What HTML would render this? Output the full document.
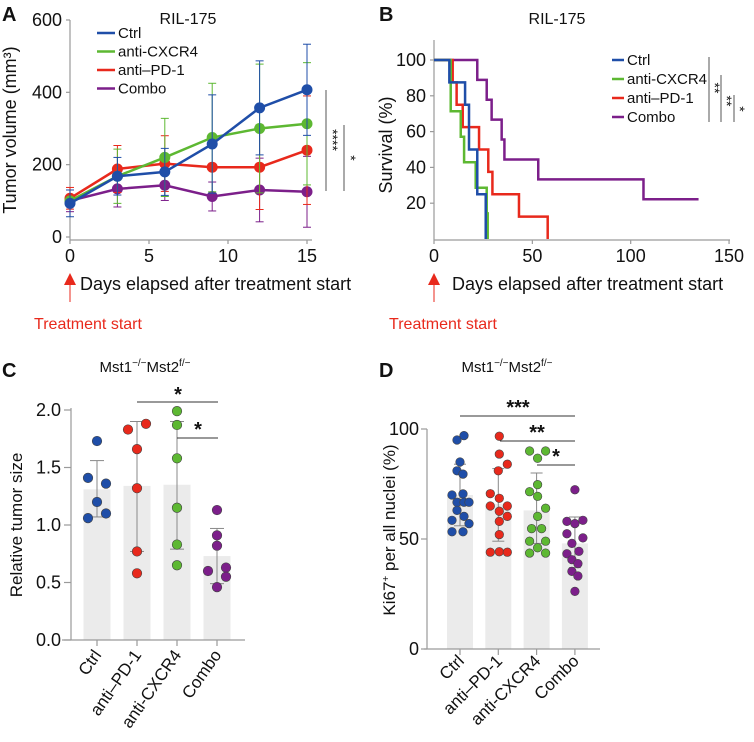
<!DOCTYPE html>
<html><head><meta charset="utf-8"><style>
body{margin:0;background:#fff;}
svg{display:block;font-family:"Liberation Sans",Arial,sans-serif;}
</style></head><body>
<svg id="fig" width="754" height="742" viewBox="0 0 754 742">
<g id="gA"></g>
<g id="gB"></g>
<g id="gC"></g>
<g id="gD"></g>
</svg>
<script>
// ---- Panel A data ----
const daysA=[0,3,6,9,12,15];
const ctrlA=[93,168,180,257,357,407];
const ctrlErrA=[37,52,65,136,130,126];
const cxcrA=[100,168,220,275,300,313];
const cxcrErrA=[0,75,108,150,178,169];
const pd1A=[107,188,203,193,193,240];
const pd1ErrA=[30,65,77,0,117,150];
const comboA=[100,133,143,112,130,125];
const comboErrA=[30,50,42,40,88,98];
const ticksAy=[0,200,400,600];
const ticksAx=[0,5,10,15];
// ---- Panel B data ----
const ctrlB=[[0,100],[7.8,87.5],[15.8,75],[17.8,50],[22,25],[26.3,0]];
const cxcrB=[[0,100],[8.5,71.4],[13.6,57.1],[15.3,42.9],[21.2,28.6],[26.8,14.3],[27.3,0]];
const pd1B=[[0,100],[9.5,87.5],[11.5,75],[14.6,62.5],[22.9,50],[27.6,37.5],[29.7,25],[43.2,12.5],[57.8,0]];
const comboB=[[0,100],[22,88.9],[26.8,77.8],[29.3,66.7],[34.4,55.6],[35.8,44.4],[53,33.3],[106.5,22.2]];
const comboEndB=134.5;
const ticksBy=[20,40,60,80,100];
const ticksBx=[0,50,100,150];
// ---- Panel C data ----
const catsC=["Ctrl","anti–PD-1","anti-CXCR4","Combo"];
const meansC=[1.31,1.34,1.35,0.73];
const errLoC=[1.07,0.77,0.79,0.49];
const errHiC=[1.56,1.90,1.90,0.97];
const ptsCtrlC=[1.73,1.41,1.36,1.20,1.06,1.10];
const ptsPd1C=[1.83,1.88,1.66,1.32,0.77,0.58];
const ptsCxcrC=[1.99,1.87,1.58,1.15,0.83,0.65];
const ptsComboC=[1.13,0.91,0.82,0.60,0.63,0.55,0.46];
const ticksCy=[0,0.5,1.0,1.5,2.0];
// ---- Panel D data ----
const catsD=["Ctrl","anti–PD-1","anti-CXCR4","Combo"];
const meansD=[70,66,63,48];
const errLoD=[56,49,48,37];
const errHiD=[84,82,80,60];
const ptsCtrlD=[95,97,85,81,79.5,70,70.5,66.7,66.7,66.7,63,58.5,60.3,57,53.3,53.3];
const ptsPd1D=[96.7,88.6,84,81,70.6,68.5,65,65,62.6,60.3,58,52,44,44.2,44];
const ptsCxcrD=[90,90,86.7,71.5,74.7,69.4,64,60.3,54.7,54.7,49,49,46,43.6,43.6];
const ptsComboD=[72.4,58,57,58.5,52.4,50.5,48,43.3,44.4,40.6,38.8,35.3,33.2,26.2];
const ticksDy=[0,50,100];

const NS="http://www.w3.org/2000/svg";
const BLUE="#1f4ea8",GREEN="#5db832",RED="#e8291c",PURP="#7c1f8a",AX="#9a9a9a";
function mk(p,tag,a,txt){const e=document.createElementNS(NS,tag);for(const k in a)e.setAttribute(k,a[k]);if(txt!==undefined)e.textContent=txt;p.appendChild(e);return e;}

const gA=document.getElementById('gA'),gB=document.getElementById('gB'),gC=document.getElementById('gC'),gD=document.getElementById('gD');
function line(g,x1,y1,x2,y2,c,w,name){const l=mk(g,'line',{x1:x1,y1:y1,x2:x2,y2:y2,stroke:c,'stroke-width':w});


return l;}
function text(g,x,y,s,sz,name,extra){const a={x:x,y:y,'font-size':sz,fill:'#111'};for(const k in (extra||{}))a[k]=extra[k];const t=mk(g,'text',a,s);


return t;}

// ================= Panel A =================
const xA=d=>70+d*15.8, yA=v=>237-v*0.3617;
text(gA,2,21,"A",20,'panel-label-a',{'font-weight':'bold'});
text(gA,188,24,"RIL-175",16,'title-a',{'text-anchor':'middle'});
line(gA,70,20,70,240,AX,1.2,'y-axis-a');
line(gA,70,240,312,240,AX,1.2,'x-axis-a');
ticksAy.forEach(v=>{line(gA,66,yA(v),70,yA(v),AX,1.2,'y-tick-a');text(gA,62,yA(v)+6,String(v),18,'y-tick-label-a',{'text-anchor':'end'});});
ticksAx.forEach(v=>{line(gA,xA(v),240,xA(v),244,AX,1.2,'x-tick-a');text(gA,xA(v),262,String(v),18,'x-tick-label-a',{'text-anchor':'middle'});});
text(gA,16,130,"Tumor volume (mm³)",18,'y-axis-title-a',{'text-anchor':'middle',transform:'rotate(-90 16 130)'});
text(gA,80,290,"Days elapsed after treatment start",18,'x-axis-title-a');
function seriesA(vals,errs,col,name){
  vals.forEach((v,i)=>{if(errs[i]>0){const x=xA(daysA[i]);
    line(gA,x,yA(v-errs[i]),x,yA(v+errs[i]),col,1,name+'-errorbar');
    line(gA,x-4,yA(v+errs[i]),x+4,yA(v+errs[i]),col,1,name+'-errcap');
    line(gA,x-4,yA(v-errs[i]),x+4,yA(v-errs[i]),col,1,name+'-errcap');}});
  const p=mk(gA,'polyline',{points:vals.map((v,i)=>xA(daysA[i])+','+yA(v)).join(' '),fill:'none',stroke:col,'stroke-width':2.5});
  
  
  vals.forEach((v,i)=>{const c=mk(gA,'circle',{cx:xA(daysA[i]),cy:yA(v),r:5.5,fill:col});
    
    });
}
seriesA(comboA,comboErrA,PURP,'combo-a');
seriesA(pd1A,pd1ErrA,RED,'pd1-a');
seriesA(cxcrA,cxcrErrA,GREEN,'cxcr4-a');
seriesA(ctrlA,ctrlErrA,BLUE,'ctrl-a');
[["Ctrl",BLUE],["anti-CXCR4",GREEN],["anti–PD-1",RED],["Combo",PURP]].forEach((e,i)=>{const y=33+i*18.5;
  line(gA,97,y,115,y,e[1],2.5,'legend-swatch-a');text(gA,118,y+5,e[0],15,'legend-entry-a');});
line(gA,326,90,326,191,'#555',1,'sig-line-a1');
text(gA,328,140,"****",14,'sig-stars-a1',{transform:'rotate(90 328 140)','text-anchor':'middle'});
line(gA,344,125,344,191,'#555',1,'sig-line-a2');
text(gA,346,158,"*",14,'sig-stars-a2',{transform:'rotate(90 346 158)','text-anchor':'middle'});
// arrow
mk(gA,'polygon',{points:'64,285 76,285 70,273',fill:'#e8291c',});
line(gA,70,284,70,302,'#e8291c',1,'arrow-line-a');
text(gA,88,329,"Treatment start",16,'treatment-label-a',{'text-anchor':'middle',fill:'#e8291c'});

// ================= Panel B =================
const xB=d=>434+d*1.967, yB=v=>239-v*1.79;
text(gB,379,21,"B",20,'panel-label-b',{'font-weight':'bold'});
text(gB,557,24,"RIL-175",16,'title-b',{'text-anchor':'middle'});
line(gB,434,40,434,240,AX,1.2,'y-axis-b');
line(gB,434,240,730,240,AX,1.2,'x-axis-b');
ticksBy.forEach(v=>{line(gB,430,yB(v),434,yB(v),AX,1.2,'y-tick-b');text(gB,426,yB(v)+6,String(v),18,'y-tick-label-b',{'text-anchor':'end'});});
ticksBx.forEach(v=>{line(gB,xB(v),240,xB(v),244,AX,1.2,'x-tick-b');text(gB,xB(v),262,String(v),18,'x-tick-label-b',{'text-anchor':'middle'});});
text(gB,392,145,"Survival (%)",18,'y-axis-title-b',{'text-anchor':'middle',transform:'rotate(-90 392 145)'});
text(gB,452,290,"Days elapsed after treatment start",18,'x-axis-title-b');
function stepB(pts,end,col,name){let d='M'+xB(pts[0][0])+','+yB(pts[0][1]);
  for(let i=1;i<pts.length;i++){d+=' H'+xB(pts[i][0])+' V'+yB(pts[i][1]);}
  if(end!==null)d+=' H'+xB(end);
  const p=mk(gB,'path',{d:d,fill:'none',stroke:col,'stroke-width':2.5});
  
  }
stepB(comboB,comboEndB,PURP,'combo-survival-curve');
stepB(pd1B,null,RED,'pd1-survival-curve');
stepB(cxcrB,null,GREEN,'cxcr4-survival-curve');
stepB(ctrlB,null,BLUE,'ctrl-survival-curve');
[["Ctrl",BLUE],["anti-CXCR4",GREEN],["anti–PD-1",RED],["Combo",PURP]].forEach((e,i)=>{const y=60+i*19;
  line(gB,612,y,624,y,e[1],2.5,'legend-swatch-b');text(gB,627,y+5,e[0],15,'legend-entry-b');});
line(gB,709,57,709,122,'#555',1,'sig-line-b1');
text(gB,710,88,"**",14,'sig-stars-b1',{transform:'rotate(90 710 88)','text-anchor':'middle'});
line(gB,721,75,721,122,'#555',1,'sig-line-b2');
text(gB,722,101,"**",14,'sig-stars-b2',{transform:'rotate(90 722 101)','text-anchor':'middle'});
line(gB,734,95,734,122,'#555',1,'sig-line-b3');
text(gB,735,109,"*",14,'sig-stars-b3',{transform:'rotate(90 735 109)','text-anchor':'middle'});
mk(gB,'polygon',{points:'428,285 440,285 434,273',fill:'#e8291c',});
line(gB,434,284,434,302,'#e8291c',1,'arrow-line-b');
text(gB,443,329,"Treatment start",16,'treatment-label-b',{'text-anchor':'middle',fill:'#e8291c'});

// ================= Panel C =================
const yC=v=>640-v*115, xC=i=>97+i*40;
text(gC,2,377,"C",20,'panel-label-c',{'font-weight':'bold'});
const tC=text(gC,145,372,"",15,'title-c',{'text-anchor':'middle'});
tC.innerHTML='Mst1<tspan font-size="10" dy="-6">−/−</tspan><tspan dy="6">Mst2</tspan><tspan font-size="10" dy="-6">f/−</tspan>';
catsC.forEach((c,i)=>{const r=mk(gC,'rect',{x:xC(i)-13.5,y:yC(meansC[i]),width:27,height:yC(0)-yC(meansC[i]),fill:'#ebebeb'});
  
  });
line(gC,71,408,71,640,AX,1.2,'y-axis-c');
line(gC,62,640,245,640,AX,1.2,'x-axis-c');
ticksCy.forEach(v=>{line(gC,64,yC(v),71,yC(v),AX,1.2,'y-tick-c');text(gC,61,yC(v)+6,v.toFixed(1),18,'y-tick-label-c',{'text-anchor':'end'});});
text(gC,22,525,"Relative tumor size",17,'y-axis-title-c',{'text-anchor':'middle',transform:'rotate(-90 22 525)'});
catsC.forEach((c,i)=>{line(gC,xC(i),640,xC(i),646,AX,1.2,'x-tick-c');
  text(gC,xC(i)+5,655,c,17,'x-tick-label-c',{'text-anchor':'end',transform:'rotate(-55 '+(xC(i)+5)+' 655)'});
  line(gC,xC(i),yC(errLoC[i]),xC(i),yC(errHiC[i]),'#888',1,'errorbar-c');
  line(gC,xC(i)-7,yC(errLoC[i]),xC(i)+7,yC(errLoC[i]),'#888',1,'errcap-c');
  line(gC,xC(i)-7,yC(errHiC[i]),xC(i)+7,yC(errHiC[i]),'#888',1,'errcap-c');});
function dotsC(vals,i,offs,col,name){vals.forEach((v,j)=>{const c=mk(gC,'circle',{cx:xC(i)+offs[j],cy:yC(v),r:4.8,fill:col,stroke:'#444','stroke-width':0.6});
  
  });}
dotsC(ptsCtrlC,0,[0,-9,9,0,-9,9],BLUE,'ctrl-point-c');
dotsC(ptsPd1C,1,[-9,9,0,0,0,0],RED,'pd1-point-c');
dotsC(ptsCxcrC,2,[0,0,0,0,0,0],GREEN,'cxcr4-point-c');
dotsC(ptsComboC,3,[0,0,0,-9,9,9,0],PURP,'combo-point-c');
line(gC,137,402,218,402,'#333',1,'sig-line-c1');
text(gC,178,401,"*",20,'sig-stars-c1',{'text-anchor':'middle','font-weight':'bold'});
line(gC,177,438,218,438,'#333',1,'sig-line-c2');
text(gC,198,436,"*",20,'sig-stars-c2',{'text-anchor':'middle','font-weight':'bold'});

// ================= Panel D =================
const yD=v=>649-v*2.2, xD=i=>460+i*38.3;
text(gD,379,377,"D",20,'panel-label-d',{'font-weight':'bold'});
const tD=text(gD,507,372,"",15,'title-d',{'text-anchor':'middle'});
tD.innerHTML='Mst1<tspan font-size="10" dy="-6">−/−</tspan><tspan dy="6">Mst2</tspan><tspan font-size="10" dy="-6">f/−</tspan>';
catsD.forEach((c,i)=>{const r=mk(gD,'rect',{x:xD(i)-13,y:yD(meansD[i]),width:26,height:yD(0)-yD(meansD[i]),fill:'#ebebeb'});
  
  });
line(gD,427,429,427,649,AX,1.2,'y-axis-d');
line(gD,424,649,600,649,AX,1.2,'x-axis-d');
ticksDy.forEach(v=>{line(gD,421,yD(v),427,yD(v),AX,1.2,'y-tick-d');text(gD,419,yD(v)+6,String(v),18,'y-tick-label-d',{'text-anchor':'end'});});
const yl=text(gD,395,530,"",17,'y-axis-title-d',{'text-anchor':'middle',transform:'rotate(-90 395 530)'});
yl.innerHTML='Ki67<tspan font-size="10" dy="-6">+</tspan><tspan dy="6"> per all nuclei (%)</tspan>';
catsD.forEach((c,i)=>{line(gD,xD(i),649,xD(i),655,AX,1.2,'x-tick-d');
  text(gD,xD(i)+5,662,c,17,'x-tick-label-d',{'text-anchor':'end',transform:'rotate(-45 '+(xD(i)+5)+' 662)'});
  line(gD,xD(i),yD(errLoD[i]),xD(i),yD(errHiD[i]),'#888',1,'errorbar-d');
  line(gD,xD(i)-6,yD(errLoD[i]),xD(i)+6,yD(errLoD[i]),'#888',1,'errcap-d');
  line(gD,xD(i)-6,yD(errHiD[i]),xD(i)+6,yD(errHiD[i]),'#888',1,'errcap-d');});
function dotsD(vals,i,offs,col,name){vals.forEach((v,j)=>{const c=mk(gD,'circle',{cx:xD(i)+offs[j],cy:yD(v),r:4.3,fill:col,stroke:'#444','stroke-width':0.6});
  
  });}
dotsD(ptsCtrlD,0,[-3,4,0,-3,3,-8,3,-3,4,9,-3,-8,4,9,-8,3],BLUE,'ctrl-point-d');
dotsD(ptsPd1D,1,[1,1,9,0,-8,1,-8,9,1,9,1,1,-8,1,9],RED,'pd1-point-d');
dotsD(ptsCxcrD,2,[-7,9,1,-7,1,1,9,1,-5,5,-7,9,1,-7,9],GREEN,'cxcr4-point-d');
dotsD(ptsComboD,3,[0,-8,0,8,-8,8,-3,-8,4,-3,3,-3,3,0],PURP,'combo-point-d');
line(gD,460,416,575,416,'#333',1,'sig-line-d1');
text(gD,518,414,"***",20,'sig-stars-d1',{'text-anchor':'middle','font-weight':'bold'});
line(gD,500,441,575,441,'#333',1,'sig-line-d2');
text(gD,537,439,"**",20,'sig-stars-d2',{'text-anchor':'middle','font-weight':'bold'});
line(gD,537,465,575,465,'#333',1,'sig-line-d3');
text(gD,556,463,"*",20,'sig-stars-d3',{'text-anchor':'middle','font-weight':'bold'});
</script>
</body></html>
